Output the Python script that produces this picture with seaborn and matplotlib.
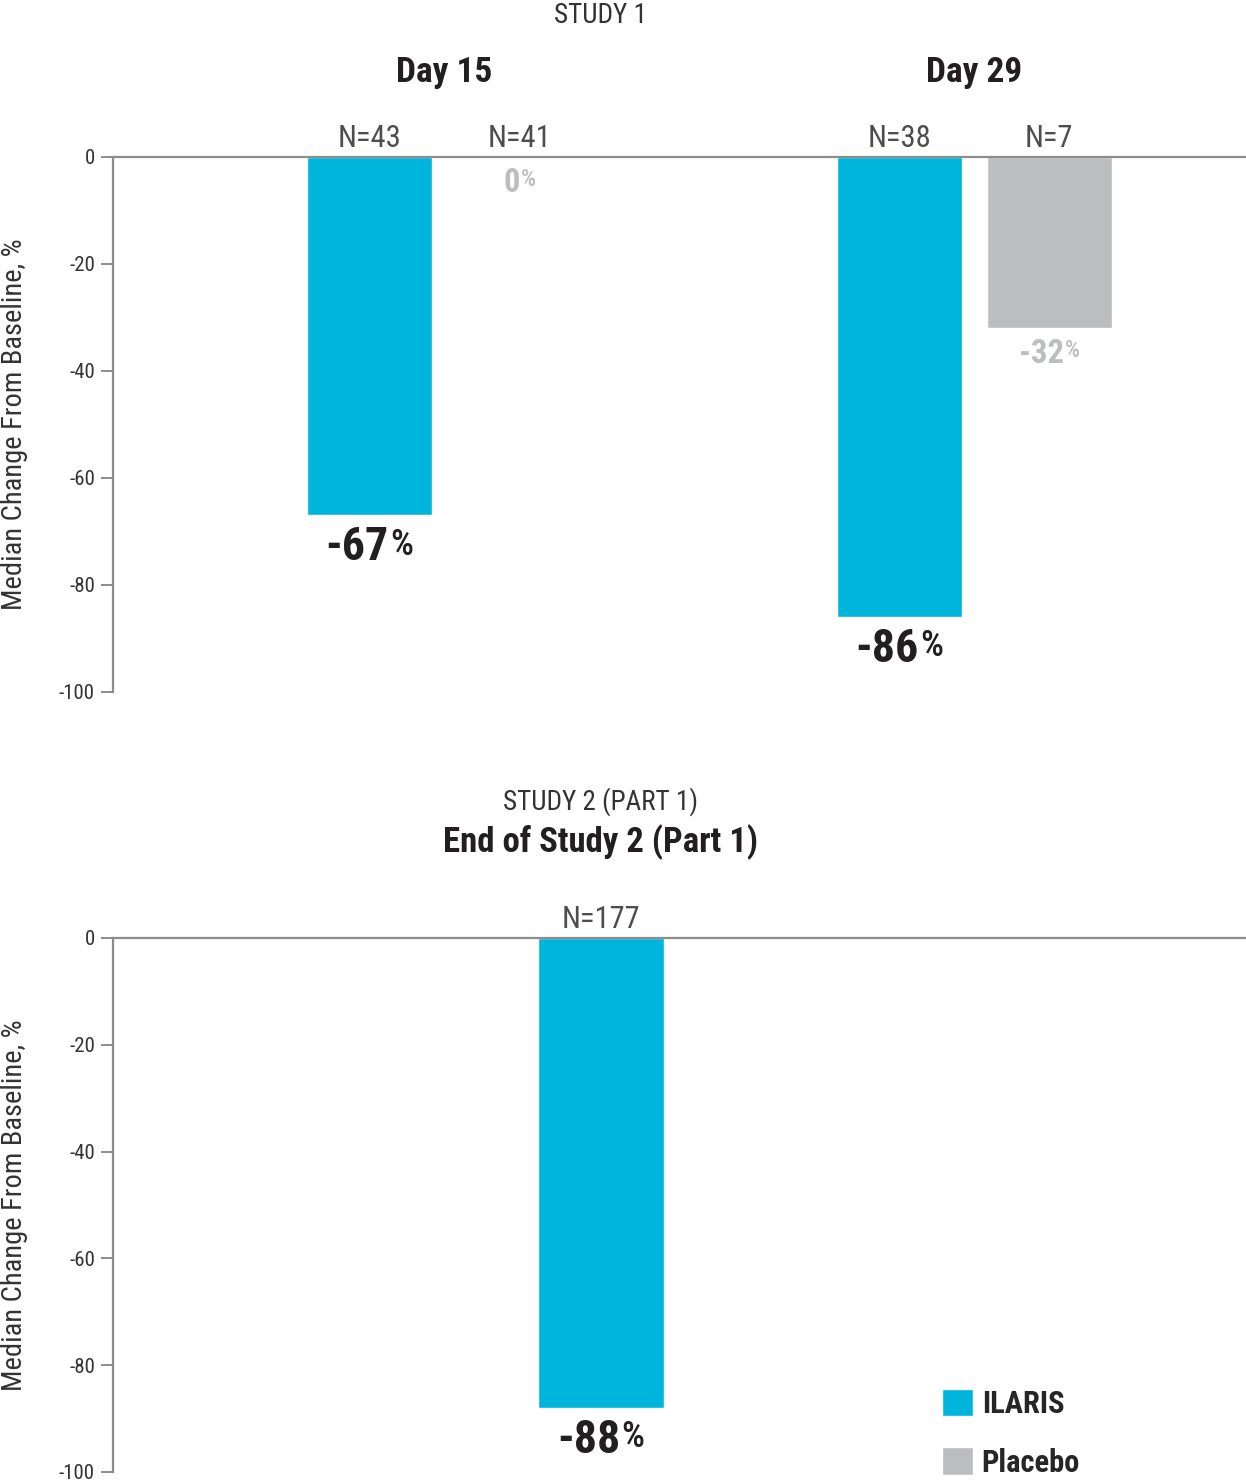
import pandas as pd
import matplotlib.pyplot as plt
import seaborn as sns
from matplotlib.patches import Patch

# study 1 data
days = ["Day 15", "Day 15", "Day 29", "Day 29"]
arms = ["ILARIS", "Placebo", "ILARIS", "Placebo"]
change1 = [-67, 0, -86, -32]
n1 = ["N=43", "N=41", "N=38", "N=7"]

# study 2 data
groups2 = ["End of Study 2 (Part 1)"]
change2 = [-88]
n2 = ["N=177"]

cyan = "#00B5DC"
grey = "#BCBDBF"
dark = "#231F20"
axgrey = "#8C8C8C"

sns.set_theme(style="white")
plt.rcParams["font.family"] = ["Roboto Condensed", "Roboto", "DejaVu Sans"]
plt.rcParams["axes.unicode_minus"] = False

df1 = pd.DataFrame({"day": days, "arm": arms, "change": change1})
df2 = pd.DataFrame({"group": groups2, "change": change2})

fig = plt.figure(figsize=(12.46, 14.82), dpi=100)
ax1 = fig.add_axes([0.0907, 0.5331, 0.9093, 0.3610])
ax2 = fig.add_axes([0.0907, 0.00675, 0.9093, 0.36035])

sns.barplot(data=df1, x="day", y="change", hue="arm", hue_order=["ILARIS", "Placebo"],
            palette=[cyan, grey], saturation=1, width=0.566, gap=0.167, ax=ax1, legend=False)
sns.barplot(data=df2, x="group", y="change", color=cyan, saturation=1, width=0.238, ax=ax2)

ax1.set_xlim(-0.625, 1.513)
ax2.set_xlim(-0.921, 1.217)

for ax in (ax1, ax2):
    ax.set_ylim(-100, 0)
    ax.set_yticks([0, -20, -40, -60, -80, -100])
    ax.set_xticks([])
    ax.set_xlabel("")
    ax.set_ylabel("Median Change From Baseline, %", fontsize=20.5, color="#333333", labelpad=22)
    for s in ["right", "bottom"]:
        ax.spines[s].set_visible(False)
    for s in ["left", "top"]:
        ax.spines[s].set_color(axgrey)
        ax.spines[s].set_linewidth(1.6)
    ax.tick_params(axis="y", length=9, width=1.4, color=axgrey, labelsize=15, labelcolor="#333333", pad=4, left=True)

value_texts = []


def value_label(ax, x, val, col, big, small):
    t1 = ax.annotate(f"{val}", (x, val), xytext=(0, -7), textcoords="offset points",
                     ha="left", va="top", fontsize=big, fontweight="bold", color=col, annotation_clip=False)
    t2 = ax.annotate("%", (x, val), xytext=(0, -8), textcoords="offset points",
                     ha="left", va="top", fontsize=small, fontweight="medium", color=col, annotation_clip=False)
    value_texts.append((t1, t2))


def n_label(ax, x, lab):
    ax.annotate(lab, (x, 0), xytext=(0, 7), textcoords="offset points", ha="center", va="baseline",
                fontsize=22, color="#4D4D4D", annotation_clip=False)


bars1 = sorted(ax1.patches[:4], key=lambda b: b.get_x())
for bar, val, arm, nlab in zip(bars1, change1, arms, n1):
    x = bar.get_x() + bar.get_width() / 2
    n_label(ax1, x, nlab)
    if arm == "ILARIS":
        value_label(ax1, x, val, dark, 33, 26)
    else:
        value_label(ax1, x, val, grey, 23.5, 17)

for i, lab in enumerate(["Day 15", "Day 29"]):
    ax1.text(i, 1.140, lab, transform=ax1.get_xaxis_transform(), ha="center", va="baseline",
             fontsize=25.5, fontweight="bold", color=dark)

# labels for study 2
b2 = ax2.patches[0]
x2 = b2.get_x() + b2.get_width() / 2
n_label(ax2, x2, n2[0])
value_label(ax2, x2, change2[0], dark, 33, 26)

fig.text(0.482, 0.9845, "STUDY 1", ha="center", va="baseline", fontsize=19.5, color="#333333")
fig.text(0.482, 0.4534, "STUDY 2 (PART 1)", ha="center", va="baseline", fontsize=19.5, color="#333333")
fig.text(0.482, 0.4251, groups2[0], ha="center", va="baseline", fontsize=25, fontweight="bold", color=dark)

handles = [Patch(facecolor=cyan, label="ILARIS"), Patch(facecolor=grey, label="Placebo")]
fig.legend(handles=handles, loc="upper left", bbox_to_anchor=(0.756, 0.0628), frameon=False,
           borderpad=0, borderaxespad=0, handlelength=1.0, handleheight=1.0, labelspacing=0.93,
           handletextpad=0.3, prop={"weight": "bold", "size": 22})

# center the "number + %" labels under each bar
fig.canvas.draw()
r = fig.canvas.get_renderer()
for t1, t2 in value_texts:
    w1 = t1.get_window_extent(r).width
    w2 = t2.get_window_extent(r).width
    start = -(w1 + 1 + w2) / 2
    t1.xyann = (start * 0.72, -7)
    t2.xyann = ((start + w1 + 1) * 0.72, -8)

fig.savefig("out.png", dpi=100)
